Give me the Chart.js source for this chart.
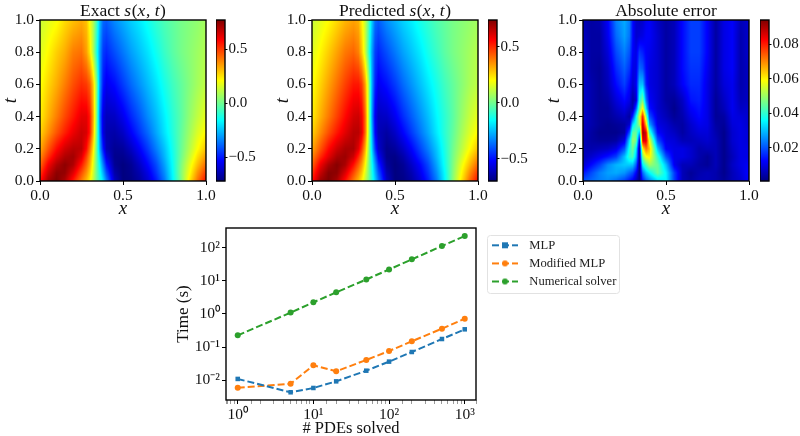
<!DOCTYPE html>
<html>
<head>
<meta charset="utf-8">
<style>
  body { margin: 0; background: #fff; width: 800px; height: 436px; overflow: hidden; position: relative; }
  .box { position: absolute; }
  .ttl { position: absolute; top: 0; font: 17.5px "Liberation Serif", serif; color: #111; text-align: center; white-space: nowrap; z-index: 2; }
  .ttl i { letter-spacing: 0.6px; }
</style>
<script src="https://cdn.jsdelivr.net/npm/chart.js@4"></script>
</head>
<body>
<div class="ttl" style="left:40px;width:166px">Exact <i>s</i>(<i>x</i>, <i>t</i>)</div>
<div class="ttl" style="left:312px;width:166px">Predicted <i>s</i>(<i>x</i>, <i>t</i>)</div>
<div class="ttl" style="left:583px;width:166px">Absolute error</div>

<div class="box" style="left:0;top:0;width:222px;height:220px"><canvas id="exact"></canvas></div>
<div class="box" style="left:216px;top:0;width:60px;height:220px"><canvas id="exactBar"></canvas></div>
<div class="box" style="left:272px;top:0;width:222px;height:220px"><canvas id="pred"></canvas></div>
<div class="box" style="left:488px;top:0;width:60px;height:220px"><canvas id="predBar"></canvas></div>
<div class="box" style="left:543px;top:0;width:222px;height:220px"><canvas id="err"></canvas></div>
<div class="box" style="left:760px;top:0;width:40px;height:220px"><canvas id="errBar"></canvas></div>
<div class="box" style="left:170px;top:220px;width:456px;height:216px"><canvas id="time"></canvas></div>

<script>
"use strict";

// Grid positions of the values.
const xGrid = [0, .05, .1, .15, .2, .25, .28, .3, .32, .34, .36, .38, .4, .45, .5, .55, .6, .65, .7, .75, .8, .85, .9, .95, 1];
const tGrid = [0, .05, .1, .15, .2, .3, .4, .6, .8, 1];
const errTGrid = [0, .05, .1, .15, .2, .25, .3, .35, .4, .45, .5, .6, .7, .8, .9, 1];

const exactS = [
  [.56, .72, .77, .7, .55, .4, .31, .23, .12, 0, -.1, -.2, -.34, -.62, -.72, -.71, -.67, -.6, -.5, -.36, -.17, .02, .24, .42, .57],
  [.5, .66, .75, .74, .63, .47, .37, .28, .15, 0, -.13, -.27, -.42, -.66, -.72, -.7, -.65, -.57, -.46, -.33, -.16, .03, .2, .37, .5],
  [.43, .6, .7, .75, .7, .55, .43, .33, .18, 0, -.17, -.34, -.5, -.69, -.72, -.69, -.62, -.53, -.43, -.3, -.15, .02, .17, .31, .43],
  [.38, .52, .63, .7, .72, .63, .49, .37, .21, 0, -.22, -.42, -.58, -.7, -.7, -.66, -.58, -.49, -.39, -.27, -.14, 0, .13, .26, .36],
  [.33, .46, .57, .65, .69, .68, .57, .43, .25, 0, -.28, -.5, -.64, -.69, -.68, -.62, -.54, -.45, -.35, -.25, -.13, -.01, .1, .21, .3],
  [.27, .37, .46, .54, .61, .66, .64, .55, .33, .03, -.32, -.58, -.65, -.66, -.62, -.54, -.46, -.38, -.29, -.2, -.11, -.02, .07, .16, .22],
  [.23, .32, .4, .48, .55, .62, .62, .55, .35, .05, -.35, -.58, -.63, -.62, -.56, -.48, -.41, -.33, -.26, -.18, -.1, -.03, .05, .12, .18],
  [.2, .27, .33, .4, .47, .52, .5, .45, .3, .05, -.3, -.5, -.56, -.52, -.45, -.38, -.32, -.26, -.2, -.13, -.07, -.02, .03, .08, .12],
  [.16, .22, .28, .33, .4, .42, .35, .25, .1, -.1, -.3, -.45, -.48, -.42, -.36, -.3, -.25, -.2, -.14, -.08, -.03, .01, .04, .07, .1],
  [.13, .17, .2, .26, .3, .33, .3, .2, .1, -.05, -.25, -.38, -.4, -.33, -.28, -.23, -.19, -.14, -.09, -.05, -.02, .01, .03, .05, .08],
];

const predS = [
  [.53, .7, .74, .68, .54, .39, .3, .22, .12, .02, -.1, -.22, -.35, -.6, -.7, -.69, -.65, -.58, -.48, -.35, -.17, .04, .23, .41, .55],
  [.48, .64, .73, .72, .61, .46, .36, .28, .16, .03, -.11, -.26, -.4, -.63, -.7, -.68, -.63, -.55, -.45, -.32, -.16, .03, .2, .36, .49],
  [.42, .58, .68, .73, .68, .54, .43, .34, .21, .04, -.13, -.3, -.46, -.66, -.7, -.67, -.6, -.52, -.42, -.29, -.14, .02, .17, .3, .42],
  [.37, .5, .6, .68, .7, .63, .51, .41, .26, .06, -.16, -.36, -.53, -.68, -.69, -.64, -.56, -.47, -.38, -.26, -.13, .01, .13, .25, .35],
  [.32, .44, .55, .63, .68, .68, .6, .48, .32, .08, -.2, -.44, -.59, -.68, -.66, -.6, -.52, -.43, -.34, -.24, -.12, 0, .1, .2, .29],
  [.26, .36, .45, .53, .6, .66, .66, .6, .42, .12, -.24, -.52, -.62, -.65, -.6, -.52, -.44, -.36, -.28, -.19, -.1, -.02, .07, .15, .21],
  [.22, .31, .39, .47, .55, .62, .63, .58, .42, .12, -.28, -.54, -.61, -.6, -.54, -.46, -.39, -.32, -.25, -.17, -.1, -.03, .05, .12, .17],
  [.19, .26, .33, .4, .47, .53, .53, .48, .34, .1, -.26, -.47, -.54, -.5, -.44, -.37, -.31, -.25, -.19, -.13, -.07, -.02, .03, .08, .11],
  [.15, .21, .27, .33, .39, .42, .38, .28, .14, -.06, -.28, -.43, -.47, -.41, -.35, -.29, -.24, -.19, -.13, -.08, -.03, .01, .04, .07, .1],
  [.12, .16, .2, .25, .3, .33, .31, .22, .12, -.03, -.22, -.36, -.39, -.32, -.27, -.22, -.18, -.13, -.09, -.05, -.02, .01, .03, .05, .07],
];

const absErr = [
  [.02, .022, .024, .025, .022, .018, .014, .011, .006, .002, .014, .02, .024, .032, .035, .018, .006, .004, .006, .006, .005, .003, .006, .008, .012],
  [.014, .019, .024, .027, .028, .026, .022, .019, .012, .002, .022, .03, .035, .045, .035, .018, .006, .003, .005, .006, .005, .002, .006, .009, .013],
  [.008, .013, .018, .025, .029, .031, .031, .03, .021, .002, .035, .043, .05, .045, .03, .011, .006, .006, .004, .003, .006, .002, .007, .01, .012],
  [.006, .008, .011, .014, .018, .03, .04, .042, .03, .003, .048, .058, .06, .04, .02, .01, .01, .008, .005, .003, .006, .002, .006, .01, .01],
  [.006, .005, .006, .007, .01, .02, .038, .046, .035, .003, .06, .072, .065, .03, .012, .01, .01, .008, .005, .006, .006, .002, .007, .01, .01],
  [.006, .004, .003, .003, .004, .01, .033, .05, .046, .01, .085, .085, .058, .02, .01, .009, .006, .006, .007, .008, .006, .002, .008, .01, .009],
  [.007, .004, .002, .002, .002, .004, .02, .045, .045, .03, .092, .085, .042, .013, .009, .007, .004, .007, .009, .009, .005, .002, .008, .01, .009],
  [.007, .005, .003, .002, .003, .004, .008, .033, .04, .05, .088, .065, .028, .01, .008, .005, .004, .008, .011, .01, .004, .003, .009, .01, .008],
  [.008, .005, .003, .003, .005, .007, .004, .016, .035, .055, .08, .05, .02, .009, .006, .003, .005, .01, .013, .01, .003, .004, .01, .009, .008],
  [.008, .005, .003, .003, .007, .01, .007, .005, .02, .045, .06, .033, .014, .008, .005, .002, .006, .012, .014, .01, .003, .006, .011, .007, .008],
  [.008, .005, .003, .004, .009, .013, .01, .004, .008, .038, .047, .024, .012, .008, .004, .003, .007, .014, .015, .01, .003, .007, .011, .006, .007],
  [.008, .005, .003, .006, .013, .018, .013, .008, .011, .03, .03, .015, .01, .008, .004, .006, .012, .016, .016, .01, .004, .009, .011, .005, .007],
  [.008, .004, .003, .007, .016, .021, .017, .01, .01, .022, .02, .013, .01, .008, .004, .006, .013, .017, .017, .011, .004, .01, .012, .005, .007],
  [.008, .004, .004, .009, .019, .024, .02, .012, .01, .017, .015, .012, .011, .008, .004, .006, .013, .018, .018, .012, .004, .01, .012, .005, .008],
  [.007, .004, .004, .011, .022, .027, .023, .013, .008, .009, .01, .012, .012, .008, .004, .006, .013, .018, .018, .012, .004, .01, .012, .005, .008],
  [.006, .004, .005, .012, .024, .028, .024, .013, .008, .007, .008, .011, .012, .007, .004, .006, .013, .018, .018, .012, .004, .01, .012, .006, .008],
];

const exactRange = [-.72, .77];
const predRange = [-.70, .74];
const errRange = [.0008, .0939];
const sTicks = [-.5, 0, .5];
const errTicks = [.02, .04, .06, .08];
const mapXTicks = [0, .5, 1];
const mapTTicks = [0, .2, .4, .6, .8, 1];

const pdeCounts = [1, 5, 10, 20, 50, 100, 200, 500, 1000];
const mlpTime = [.011, .00435, .00587, .0093, .0195, .0366, .0714, .176, .345];
const modifiedTime = [.006, .0079, .0283, .0187, .041, .0766, .15, .361, .723];
const solverTime = [.2275, 1.1, 2.25, 4.5, 11, 22, 44.5, 112, 225];

const FONT = '"Liberation Serif", serif';
const INK = "#111";

function jet(f) {
  const c = (v) => Math.round(255 * Math.max(0, Math.min(1, v)));
  return [c(1.5 - Math.abs(4 * f - 3)), c(1.5 - Math.abs(4 * f - 2)), c(1.5 - Math.abs(4 * f - 1))];
}

function bracket(grid, v) {
  let i = 0;
  while (i < grid.length - 2 && v > grid[i + 1]) i++;
  return [i, Math.max(0, Math.min(1, (v - grid[i]) / (grid[i + 1] - grid[i])))];
}

// imshow style: paint the grid values with bilinear shading, through the chart's scales.
const heatPlugin = {
  id: "heat",
  beforeDatasetsDraw(chart, _args, opts) {
    if (!opts.values) return;
    const { left, top, width, height } = chart.chartArea;
    const w = Math.round(width), h = Math.round(height);
    const off = document.createElement("canvas");
    off.width = w; off.height = h;
    const octx = off.getContext("2d");
    const img = octx.createImageData(w, h);
    for (let py = 0; py < h; py++) {
      const [j, ft] = bracket(opts.ts, chart.scales.y.getValueForPixel(top + py + .5));
      for (let px = 0; px < w; px++) {
        const [i, fx] = bracket(xGrid, chart.scales.x.getValueForPixel(left + px + .5));
        const lo = opts.values[j][i] * (1 - fx) + opts.values[j][i + 1] * fx;
        const hi = opts.values[j + 1][i] * (1 - fx) + opts.values[j + 1][i + 1] * fx;
        const v = lo * (1 - ft) + hi * ft;
        const [r, g, b] = jet((v - opts.range[0]) / (opts.range[1] - opts.range[0]));
        const k = (py * w + px) * 4;
        img.data[k] = r; img.data[k + 1] = g; img.data[k + 2] = b; img.data[k + 3] = 255;
      }
    }
    octx.putImageData(img, 0, 0);
    chart.ctx.drawImage(off, left, top, width, height);
  },
};

const barPlugin = {
  id: "bar",
  beforeDatasetsDraw(chart, _args, opts) {
    if (!opts.range) return;
    const { left, top, width, height } = chart.chartArea;
    const ctx = chart.ctx;
    for (let py = 0; py < height; py++) {
      const v = chart.scales.y.getValueForPixel(top + py + .5);
      const [r, g, b] = jet((v - opts.range[0]) / (opts.range[1] - opts.range[0]));
      ctx.fillStyle = `rgb(${r},${g},${b})`;
      ctx.fillRect(left, top + py, width, 1.2);
    }
  },
};

const framePlugin = {
  id: "frame",
  afterDraw(chart) {
    const { left, top, width, height } = chart.chartArea;
    const ctx = chart.ctx;
    ctx.save();
    ctx.strokeStyle = "#000";
    ctx.lineWidth = 1.4;
    ctx.strokeRect(left, top, width, height);
    ctx.restore();
  },
};

Chart.register(heatPlugin, barPlugin, framePlugin);

const fmt = (v) => (v < 0 ? "\u2212" : "") + Math.abs(v).toFixed(1);

// Fixed axis box; no extra room for overhanging end labels.
function pinHeight(h) {
  return (s) => { s.height = h; s.paddingLeft = 0; s.paddingRight = 0; };
}
function pinWidth(w) {
  return (s) => { s.width = w; s.paddingTop = 0; s.paddingBottom = 0; };
}

function axisCommon(fontSize) {
  return {
    grid: { drawOnChartArea: false, drawTicks: true, tickLength: 4, tickColor: "#000", tickWidth: 1 },
    border: { display: false },
    ticks: { color: INK, font: { family: FONT, size: fontSize }, maxRotation: 0, autoSkip: false, padding: 2 },
  };
}

function drawMap(id, values, ts, range, yWidth) {
  const points = [];
  ts.forEach((t, j) => xGrid.forEach((x, i) => points.push({ x, y: t, v: values[j][i] })));
  const xAxis = axisCommon(15.5), yAxis = axisCommon(15.5);
  new Chart(document.getElementById(id), {
    type: "scatter",
    data: { datasets: [{ data: points, pointRadius: 0, pointHoverRadius: 0 }] },
    options: {
      responsive: true,
      maintainAspectRatio: false,
      animation: false,
      layout: { padding: { top: 20, right: 16, left: 0, bottom: 0 } },
      plugins: { legend: { display: false }, tooltip: { enabled: false }, heat: { values, ts, range } },
      scales: {
        x: {
          ...xAxis, type: "linear", min: 0, max: 1,
          ticks: { ...xAxis.ticks, callback: (v) => v.toFixed(1) },
          afterBuildTicks: (s) => { s.ticks = mapXTicks.map((value) => ({ value })); },
          afterFit: pinHeight(39),
          title: { display: true, text: "x", color: INK, padding: { top: 0, bottom: 0 }, font: { family: FONT, size: 19, style: "italic" } },
        },
        y: {
          ...yAxis, type: "linear", min: 0, max: 1,
          ticks: { ...yAxis.ticks, callback: (v) => v.toFixed(1) },
          afterBuildTicks: (s) => { s.ticks = mapTTicks.map((value) => ({ value })); },
          afterFit: pinWidth(yWidth),
          title: { display: true, text: "t", color: INK, padding: { top: 0, bottom: 0 }, font: { family: FONT, size: 19, style: "italic" } },
        },
      },
    },
  });
}

function drawBar(id, range, tickValues, label, rightWidth) {
  const yAxis = axisCommon(15);
  new Chart(document.getElementById(id), {
    type: "scatter",
    data: { datasets: [] },
    options: {
      responsive: true,
      maintainAspectRatio: false,
      animation: false,
      layout: { padding: { top: 20, bottom: 39, left: 0, right: 0 } },
      plugins: { legend: { display: false }, tooltip: { enabled: false }, bar: { range } },
      scales: {
        x: { type: "linear", display: false, min: 0, max: 1 },
        y: {
          ...yAxis, type: "linear", position: "right", min: range[0], max: range[1],
          grid: { ...yAxis.grid, tickLength: 2.5 },
          ticks: { ...yAxis.ticks, padding: 1, callback: label },
          afterBuildTicks: (s) => { s.ticks = tickValues.map((value) => ({ value })); },
          afterFit: pinWidth(rightWidth),
        },
      },
    },
  });
}

drawMap("exact", exactS, tGrid, exactRange, 40);
drawBar("exactBar", exactRange, sTicks, fmt, 51);
drawMap("pred", predS, tGrid, predRange, 40);
drawBar("predBar", predRange, sTicks, fmt, 51);
drawMap("err", absErr, errTGrid, errRange, 40);
drawBar("errBar", errRange, errTicks, (v) => v.toFixed(2), 31);

// Small canvas with dashed stroke and marker, used as the legend handle.
function legendHandle(color, marker) {
  const c = document.createElement("canvas");
  c.width = 44; c.height = 12;
  const ctx = c.getContext("2d");
  ctx.strokeStyle = color;
  ctx.lineWidth = 2;
  ctx.setLineDash([7, 3]);
  ctx.beginPath(); ctx.moveTo(13, 6); ctx.lineTo(39, 6); ctx.stroke();
  ctx.fillStyle = color;
  if (marker === "rect") ctx.fillRect(23, 3, 6, 6);
  else { ctx.beginPath(); ctx.arc(26, 6, 3, 0, Math.PI * 2); ctx.fill(); }
  return c;
}

const legendPlugin = {
  id: "legendSpot",
  afterLayout(chart) {
    chart.legend.left = 303.5;
    chart.legend.top = 13.5;
  },
  beforeDraw(chart) {
    const ctx = chart.ctx;
    ctx.save();
    ctx.strokeStyle = "#e2e2e2";
    ctx.lineWidth = 1;
    ctx.beginPath();
    ctx.roundRect(317.5, 15.5, 132, 58, 3);
    ctx.stroke();
    ctx.restore();
  },
};

function series(label, data, color, marker) {
  return {
    label, data: data.map((y, i) => ({ x: pdeCounts[i], y })),
    borderColor: color, backgroundColor: color, borderWidth: 2, borderDash: [7, 3],
    pointStyle: marker, pointRadius: marker === "rect" ? 3.2 : 3, pointBorderWidth: 0, showLine: true, tension: 0,
    handle: legendHandle(color, marker),
  };
}

const xLog = axisCommon(15.5), yLog = axisCommon(15.5);
new Chart(document.getElementById("time"), {
  type: "scatter",
  data: {
    datasets: [
      series("MLP", mlpTime, "#1f77b4", "rect"),
      series("Modified MLP", modifiedTime, "#ff7f0e", "circle"),
      series("Numerical solver", solverTime, "#2ca02c", "circle"),
    ],
  },
  plugins: [legendPlugin],
  options: {
    responsive: true,
    maintainAspectRatio: false,
    animation: false,
    layout: { padding: { top: 8, right: 0, left: 0, bottom: 0 } },
    plugins: {
      tooltip: { enabled: false },
      legend: {
        position: "right",
        align: "start",
        maxWidth: 150,
        labels: {
          usePointStyle: true,
          pointStyleWidth: 44,
          padding: 5.5,
          color: "#222",
          font: { family: FONT, size: 12.6 },
          generateLabels: (chart) => chart.data.datasets.map((d, i) => ({
            text: d.label, pointStyle: d.handle, datasetIndex: i, fontColor: "#222", lineWidth: 0, strokeStyle: "transparent", fillStyle: "transparent",
          })),
        },
      },
    },
    scales: {
      x: {
        ...xLog, type: "logarithmic", min: .7228, max: 1409,
        grid: { ...xLog.grid, tickColor: (c) => (Number.isInteger(Math.round(Math.log10(c.tick.value) * 1e6) / 1e6) ? "#000" : "#999") },
        ticks: { ...xLog.ticks, callback: (v) => ({ 1: "10\u2070", 10: "10\u00b9", 100: "10\u00b2", 1000: "10\u00b3" }[v] || "") },
        afterFit: pinHeight(36),
        title: { display: true, text: "# PDEs solved", color: INK, padding: { top: 0, bottom: -3 }, font: { family: FONT, size: 16.5 } },
      },
      y: {
        ...yLog, type: "logarithmic", min: .002546, max: 392.6,
        ticks: { ...yLog.ticks, callback: (v) => ({ .01: "10\u207b\u00b2", .1: "10\u207b\u00b9", 1: "10\u2070", 10: "10\u00b9", 100: "10\u00b2" }[v] || "") },
        afterBuildTicks: (s) => { s.ticks = [.01, .1, 1, 10, 100].map((value) => ({ value })); },
        afterFit: pinWidth(56),
        title: { display: true, text: "Time (s)", color: INK, padding: { top: 3, bottom: 0 }, font: { family: FONT, size: 17 } },
      },
    },
  },
});
</script>
</body>
</html>
